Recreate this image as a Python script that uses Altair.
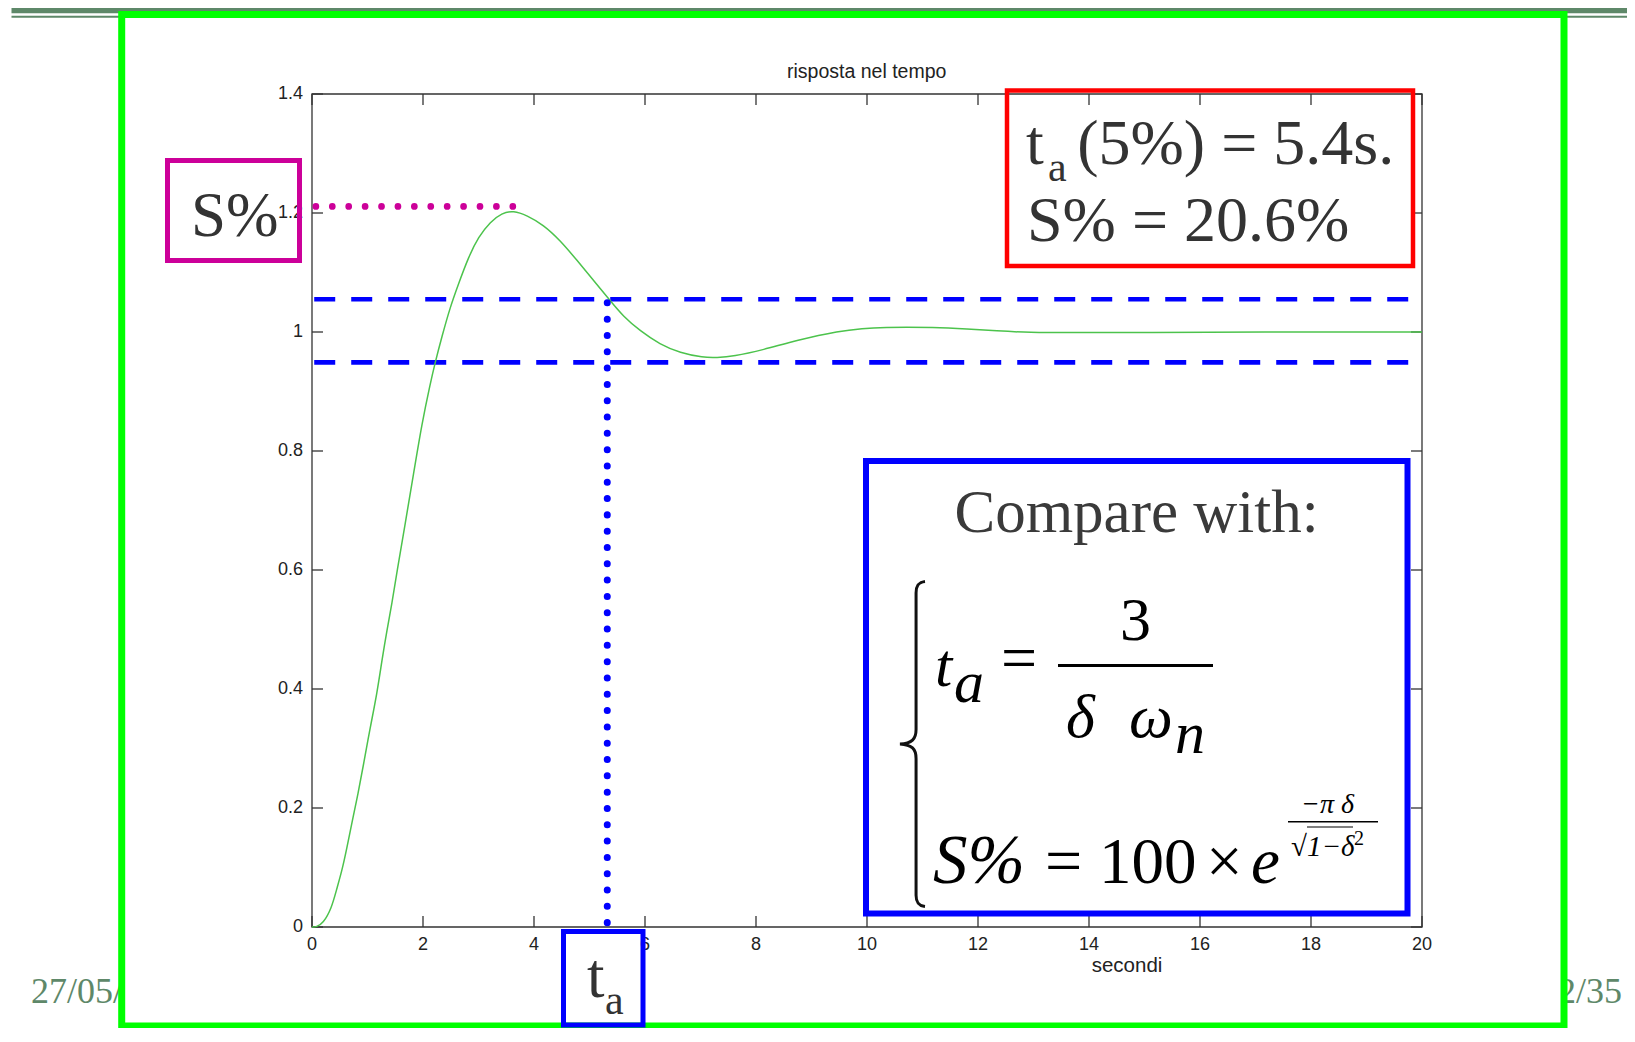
import altair as alt
import pandas as pd

# ---------------- values ----------------
t_vals = [0, 0.08, 0.20, 0.35, 0.44, 0.54, 0.62, 0.74, 0.83, 0.92,
          1.05, 1.17, 1.26, 1.35, 1.44, 1.53, 1.68, 1.83, 1.98, 2.13,
          2.22, 2.34, 2.49, 2.64, 2.82, 3.00, 3.21, 3.42, 3.63, 3.87,
          4.17, 4.47, 4.77, 5.07, 5.37, 5.61, 5.91, 6.27, 6.63, 7.05,
          7.29, 7.59, 8.13, 8.73, 9.51, 9.93, 10.23, 11.26, 11.80, 12.34,
          12.88, 13.84, 15.0, 17.0, 20.0]
y_vals = [0, 0.0, 0.006, 0.031, 0.062, 0.095, 0.129, 0.185, 0.224, 0.269,
          0.336, 0.392, 0.448, 0.499, 0.543, 0.597, 0.678, 0.762, 0.846, 0.913,
          0.949, 0.992, 1.042, 1.081, 1.126, 1.160, 1.185, 1.200, 1.204, 1.196,
          1.180, 1.154, 1.121, 1.087, 1.053, 1.026, 1.002, 0.979, 0.965, 0.957,
          0.957, 0.959, 0.970, 0.986, 1.002, 1.006, 1.008, 1.008, 1.005, 1.002,
          0.999, 0.999, 0.999, 1.0, 1.0]
x_ticks = [0, 2, 4, 6, 8, 10, 12, 14, 16, 18, 20]
y_ticks = [0, 0.2, 0.4, 0.6, 0.8, 1.0, 1.2, 1.4]
band_levels = [1.055, 0.949]      # +/-5% band
band_span = [0.04, 19.78]
t_settle = [5.32]                 # t_a marker
settle_top = [1.049]
s_peak = [1.211]                  # overshoot level marker
peak_span = [0.07, 3.64]

curve = pd.DataFrame({"t": t_vals, "y": y_vals})
xt = pd.DataFrame({"v": x_ticks})
yt = pd.DataFrame({"v": y_ticks})
bands = pd.DataFrame({"level": band_levels})
settle = pd.DataFrame({"t": t_settle, "top": settle_top})
peak = pd.DataFrame({"y": s_peak})
one = pd.DataFrame({"k": [0]})

SANS = "Liberation Sans, Arial, sans-serif"
SERIF = "Liberation Serif, Times New Roman, serif"
SLIDE_GREEN = "#5e8869"
AXC = "#333333"

XS = alt.Scale(domain=[0, 20], nice=False, zero=False)
YS = alt.Scale(domain=[0, 1.4], nice=False, zero=False)


def px_rect(x1, y1, x2, y2, **kw):
    return alt.Chart(one).mark_rect(**kw).encode(
        x=alt.value(x1), x2=alt.value(x2), y=alt.value(y1), y2=alt.value(y2))


def px_text(s, x, y, size, font=SERIF, style="normal", color="#333333", align="left"):
    return alt.Chart(one).mark_text(
        text=s, fontSize=size, font=font, fontStyle=style, color=color,
        align=align, baseline="alphabetic").encode(x=alt.value(x), y=alt.value(y))


def px_hline(x1, x2, y, color, width):
    return alt.Chart(one).mark_rule(color=color, strokeWidth=width).encode(
        x=alt.value(x1), x2=alt.value(x2), y=alt.value(y))


# ---------------- slide decoration ----------------
bar1 = px_rect(-300.5, -88, 1323, -80.7, color=SLIDE_GREEN)
bar2 = px_rect(-300.5, -78.3, 1323, -76.3, color=SLIDE_GREEN)
foot_l = px_text("27/05/", -281, 909, 36, color=SLIDE_GREEN)
foot_r = px_text("2/35", 1246, 909, 36, color=SLIDE_GREEN)
frame = px_rect(-190.3, -79.5, 1252, 932, fill="white", stroke="#00ff00", strokeWidth=7)

# ---------------- plot box, inward ticks, tick labels ----------------
plot_box = alt.Chart(one).mark_rect(fillOpacity=0, stroke=AXC, strokeWidth=1.3).encode(
    x=alt.XDatum(0, scale=XS, axis=None), x2=alt.X2Datum(20),
    y=alt.YDatum(0, scale=YS, axis=None), y2=alt.Y2Datum(1.4))

tick_b = alt.Chart(xt).mark_rule(color=AXC, strokeWidth=1.3).encode(
    x=alt.X("v:Q", scale=XS, axis=None),
    y=alt.YDatum(0, scale=YS, axis=None), y2=alt.value(822))
tick_t = alt.Chart(xt).mark_rule(color=AXC, strokeWidth=1.3).encode(
    x=alt.X("v:Q", scale=XS, axis=None),
    y=alt.YDatum(1.4, scale=YS, axis=None), y2=alt.value(11))
tick_l = alt.Chart(yt).mark_rule(color=AXC, strokeWidth=1.3).encode(
    y=alt.Y("v:Q", scale=YS, axis=None),
    x=alt.XDatum(0, scale=XS, axis=None), x2=alt.value(11))
tick_r = alt.Chart(yt).mark_rule(color=AXC, strokeWidth=1.3).encode(
    y=alt.Y("v:Q", scale=YS, axis=None),
    x=alt.XDatum(20, scale=XS, axis=None), x2=alt.value(1099))

xlab = alt.Chart(xt).mark_text(font=SANS, fontSize=18, color="#222222", baseline="top",
                               dy=9).encode(
    x=alt.X("v:Q", scale=XS, axis=None), y=alt.YDatum(0, scale=YS, axis=None),
    text=alt.Text("v:Q", format="~g"))
ylab = alt.Chart(yt).mark_text(font=SANS, fontSize=18, color="#222222", align="right",
                               baseline="middle", dx=-9).encode(
    y=alt.Y("v:Q", scale=YS, axis=None), x=alt.XDatum(0, scale=XS, axis=None),
    text=alt.Text("v:Q", format="~g"))

# ---------------- data layers ----------------
band_l = alt.Chart(bands).mark_rule(color="#0000ff", strokeWidth=4.7, strokeDash=[21, 16]).encode(
    x=alt.XDatum(band_span[0], scale=XS, axis=None), x2=alt.X2Datum(band_span[1]),
    y=alt.Y("level:Q", scale=YS, axis=None))

curve_l = alt.Chart(curve).mark_line(color="#4cc34c", strokeWidth=1.5, interpolate="basis").encode(
    x=alt.X("t:Q", scale=XS, axis=None),
    y=alt.Y("y:Q", scale=YS, axis=None))

settle_l = alt.Chart(settle).mark_rule(color="#0000ff", strokeWidth=7, strokeDash=[0.01, 16.3],
                                       strokeCap="round").encode(
    x=alt.X("t:Q", scale=XS, axis=None),
    y=alt.Y("top:Q", scale=YS, axis=None), y2=alt.Y2Datum(0))

peak_l = alt.Chart(peak).mark_rule(color="#cc0099", strokeWidth=6.7, strokeDash=[0.01, 16.4],
                                   strokeCap="round").encode(
    x=alt.XDatum(peak_span[0], scale=XS, axis=None), x2=alt.X2Datum(peak_span[1]),
    y=alt.Y("y:Q", scale=YS, axis=None))

# ---------------- titles ----------------
title_l = px_text("risposta nel tempo", 554.7, -16, 19.5, font=SANS, color="#222222", align="center")
xtitle_l = px_text("secondi", 815, 878, 20.5, font=SANS, color="#222222", align="center")

# ---------------- annotation boxes ----------------
mag_box = px_rect(-144.5, 66.5, -12.5, 166.5, fillOpacity=0, stroke="#cc0099", strokeWidth=5)
mag_txt = px_text("S%", -121, 142, 63)

red_box = px_rect(695, -3.5, 1101, 172, fillOpacity=0, stroke="#ff0000", strokeWidth=4.5)
red_t = px_text("t", 714, 70, 64)
red_a = px_text("a", 736, 87, 42)
red_r = px_text("(5%) = 5.4s.", 765.2, 70, 64)
red_2 = px_text("S% = 20.6%", 715, 146.7, 64)

ta_box = px_rect(251.5, 837.5, 331, 931, fillOpacity=0, stroke="#0000ff", strokeWidth=5)
ta_t = px_text("t", 275, 903, 63)
ta_a = px_text("a", 293, 920, 42)

cmp_box = px_rect(554, 367, 1095.5, 819.5, fillOpacity=0, stroke="#0000ff", strokeWidth=6)
cmp_txt = px_text("Compare with:", 824.6, 437.7, 61, color="#3a3a3a", align="center")

BRACE = ("M 0.08 -1 C 0.035 -0.995 0.025 -0.97 0.025 -0.93 L 0.025 -0.09 "
         "C 0.025 -0.03 0 -0.005 -0.074 0 C 0 0.005 0.025 0.03 0.025 0.09 "
         "L 0.025 0.93 C 0.025 0.97 0.035 0.995 0.08 1")
brace = alt.Chart(one).mark_point(shape=BRACE, size=325 ** 2, filled=False, stroke="#111111",
                                  strokeWidth=3, opacity=1).encode(
    x=alt.value(600), y=alt.value(650))

K = "#000000"
f_t = px_text("t", 623, 592, 62, style="italic", color=K)
f_a = px_text("a", 642, 608, 60, style="italic", color=K)
f_eq = px_text("=", 689, 585, 64, color=K)
f_bar = px_hline(746, 901, 571.5, K, 3)
f_3 = px_text("3", 823.5, 546, 62, color=K, align="center")
f_d = px_text("δ", 754, 643, 62, style="italic", color=K)
f_w = px_text("ω", 817, 643, 62, style="italic", color=K)
f_n = px_text("n", 863, 659, 60, style="italic", color=K)

g_s = px_text("S%", 621, 789.3, 69, style="italic", color=K)
g_eq = px_text("=", 733, 789.3, 66, color=K)
g_100 = px_text("100", 787, 789.3, 65, color=K)
g_x = px_text("×", 894, 789.3, 65, color=K)
g_e = px_text("e", 939, 789.3, 65, style="italic", color=K)
g_num = px_text("−π δ", 989, 719, 28, style="italic", color=K)
g_bar = px_hline(976, 1066, 727.7, K, 1.4)
g_den = px_text("√1−δ", 979, 762, 29, style="italic", color=K)
g_sq = px_text("2", 1042, 751, 20, color=K)
g_ov = px_hline(995, 1041, 733, K, 1.1)

chart = alt.layer(
    bar1, bar2, foot_l, foot_r, frame,
    plot_box, tick_b, tick_t, tick_l, tick_r, xlab, ylab,
    band_l, curve_l, settle_l, peak_l,
    title_l, xtitle_l,
    mag_box, mag_txt,
    red_box, red_t, red_a, red_r, red_2,
    ta_box, ta_t, ta_a,
    cmp_box, cmp_txt, brace,
    f_t, f_a, f_eq, f_bar, f_3, f_d, f_w, f_n,
    g_s, g_eq, g_100, g_x, g_e, g_num, g_bar, g_den, g_sq, g_ov,
).properties(
    width=1110, height=833,
    padding={"left": 304, "top": 86, "right": 205, "bottom": 101},
    autosize=alt.AutoSizeParams(type="none"),
).configure_view(stroke=None).configure(background="white")

chart.save("out.html", embed_options={"renderer": "svg", "actions": False})
